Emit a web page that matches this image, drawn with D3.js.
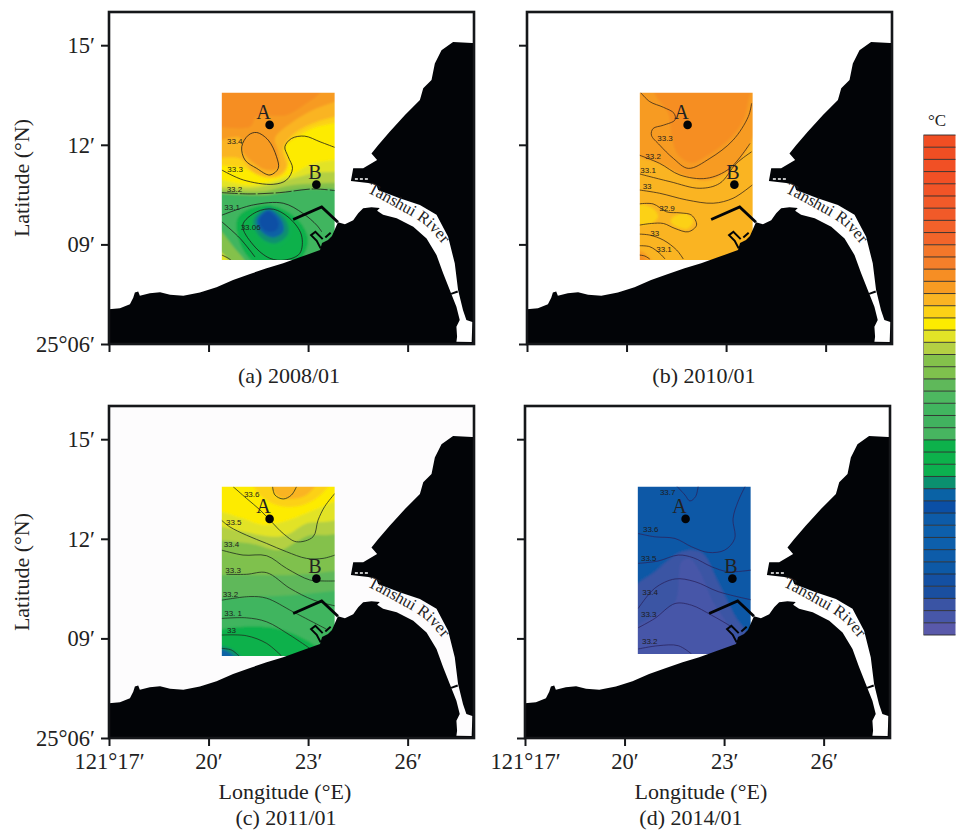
<!DOCTYPE html>
<html>
<head>
<meta charset="utf-8">
<script src="https://d3js.org/d3.v7.min.js"></script>
<style>
  body { margin: 0; background: white; }
  text { font-family: "Liberation Serif", serif; fill: #222; }
  .iso text, text.iso { font-family: "Liberation Sans", sans-serif; font-size: 8px; }
</style>
</head>
<body>
<script>
// all map coordinates are minutes: lon = 121 deg + x', lat = 25 deg + y'
var lonTicks = [17, 20, 23, 26],
    latTicks = [6, 9, 12, 15],
    lonTickLabels = ["121°17′", "20′", "23′", "26′"],
    latTickLabels = ["25°06′", "09′", "12′", "15′"];

var coastLine = [[17,6],[17,7.05],[17.33,7.08],[17.63,7.2],[17.73,7.39],[17.78,7.55],[17.88,7.58],[17.93,7.45],[18.23,7.53],[18.54,7.56],[18.84,7.48],[19.24,7.45],[19.74,7.55],[20.24,7.71],[20.74,7.93],[21.25,8.11],[21.75,8.28],[22.25,8.43],[22.75,8.61],[23.36,8.83],[23.42,9.04],[23.6,9.13],[23.72,9.25],[23.9,9.67],[24.11,9.61],[24.36,9.73],[24.51,9.94],[24.66,10.09],[24.91,10.12],[25.16,10.1],[25.08,10.01],[25.26,9.89],[25.67,9.79],[26.17,9.53],[26.57,9.18],[26.87,8.68],[27.07,8.13],[27.27,7.63],[27.35,7.42],[27.47,7.12],[27.57,6.72],[27.47,6.52],[27.49,6.22],[27.47,6.07],[27.93,6.06],[27.95,6.66],[27.77,6.72],[27.67,7.02],[27.52,7.63],[27.42,8.43],[27.22,9.23],[26.87,9.89],[26.37,10.19],[25.76,10.39],[25.11,10.64],[25.06,10.79],[24.81,10.85],[24.29,10.91],[24.36,11.29],[24.66,11.29],[25.08,11.54],[24.91,11.74],[25.11,11.99],[25.46,12.39],[25.92,12.9],[26.37,13.35],[26.47,13.7],[26.72,13.95],[26.82,14.45],[27.02,14.85],[27.37,15.1],[27.94,15.07],[28,15.07],[28,6]];
var breakwater = [[22.55,9.75],[23.41,10.13],[23.9,9.67]];
var jettyWest = [[23.38,8.88],[23.26,9.11],[23.09,9.28],[23.22,9.38],[23.44,9.16]];
var jettyEast = [[23.52,9.21],[23.68,9.35]];
var riverBar = [[27.31,7.51],[27.51,7.58]];
var capeSand = [[24.41,10.97],[24.81,10.97]];
var riverLabelPath = [[24.77,10.58],[25.61,10.13],[26.52,9.58],[27.12,8.92]];
var stations = [["A",21.84,12.6],["B",23.25,10.8]];
var surveyLon = [20.4, 23.8], surveyLat = [8.53, 13.57];

// colour bar, top to bottom
var barColors = ["#f04e23","#f04e23","#f15025","#f15025","#f15427","#f15a29","#f15a29","#f2612a","#f2652a","#f3772a","#f47f2a","#f68e24","#f79b22","#fab423","#fcd116","#fdeb00","#e2e327","#b4d043","#84c14b","#7fc14d","#5fb85a","#4db860","#41b55f","#41b25f","#47b560","#0db14b","#0db14b","#0cb04f","#0b906f","#0a62a5","#0b4fa5","#0d5ba8","#0d5fab","#0d5fab","#0d5ca9","#0d59a6","#1450a2","#1a4fa0","#3a54a4","#4757a8","#5959aa"];

// 2008/01 : colour bands
var base2008 = 11;
var below2008 = [
  [12, [[20.24,12.56],[21.25,12.54],[21.45,12.85],[22.35,12.9],[22.95,13.25],[23.36,13.57],[23.46,13.85]]],
  [13, [[20.24,12.09],[20.95,12.22],[21.03,11.79],[21.45,11.39],[21.75,11.24],[22.1,11.29],[22.1,11.79],[22,12.19],[22.55,12.7],[23.26,13.1],[23.81,13.3],[24.06,13.4]]],
  [14, [[20.24,11.59],[20.95,11.59],[21.4,11.14],[22.05,11.06],[22.35,11.34],[22.25,11.89],[22.65,12.39],[23.26,12.69],[24.06,12.9]]],
  [15, [[20.24,11.39],[21.05,11.29],[21.75,10.99],[22.25,11.09],[22.43,11.54],[22.31,11.94],[22.75,12.29],[23.26,12.54],[24.06,12.69]]],
  [16, [[20.24,11],[21.25,10.79],[22.45,11.09],[23.16,11.44],[24.06,11.56]]],
  [17, [[20.24,10.74],[21.45,10.72],[22.55,10.99],[23.26,11.16],[24.06,11.19]]],
  [18, [[20.24,10.64],[21.55,10.59],[22.55,10.79],[24.06,10.86]]],
  [22, [[20.24,10.54],[21.75,10.49],[22.75,10.66],[24.06,10.66]]]
];
var blobs2008 = [
  [18, [[20.19,9.53],[20.75,8.93],[21.15,8.33],[20.19,8.23]]],
  [16, [[20.19,8.88],[20.6,8.53],[20.75,8.33],[20.19,8.23]]],
  [25, [[20.9,9.83],[21.75,10.18],[22.6,9.83],[23,9.13],[22.65,8.43],[21.55,8.33],[20.95,9.03]]],
  [27, [[21.2,9.73],[21.8,10.19],[22.4,9.78],[22.55,9.33],[22.1,8.88],[21.55,9.08]]],
  [28, [[21.35,9.73],[21.8,10.11],[22.3,9.78],[22.4,9.33],[22,9.03],[21.55,9.23]]],
  [29, [[21.45,9.73],[21.8,10.05],[22.2,9.73],[22.25,9.38],[21.95,9.21],[21.6,9.38]]],
  [30, [[21.53,9.73],[21.8,10],[22.1,9.68],[22.05,9.43],[21.8,9.38],[21.63,9.48]]]
];
var contours2008 = [
  [[20.4,11.24],[21.05,10.94],[21.95,10.81],[22.35,10.94],[22.53,11.29],[22.4,11.64],[22.3,11.94],[22.5,12.19],[22.9,12.26],[23.36,12.09],[23.81,11.92]],
  [[20.4,9.88],[21.35,10.19],[22.25,10.24],[22.85,9.93],[23.26,9.58],[23.41,9.38]],
  [[20.4,9.68],[20.95,9.18],[21.4,8.62]],
  [[20.4,8.68],[20.6,8.58],[20.7,8.5]]
];
var dashed2008 = [[[20.4,10.56],[21.25,10.52],[22.15,10.56],[23.16,10.67],[23.81,10.62]]];
var loops2008 = [
  [[21.2,12.29],[21.45,12.37],[21.8,12.14],[22.05,11.64],[22.1,11.29],[21.85,11.09],[21.45,11.29],[21.1,11.54],[21,11.94]],
  [[21.03,9.58],[21.45,9.98],[21.95,10.06],[22.45,9.78],[22.8,9.28],[22.75,8.73],[22.3,8.53],[21.85,8.58],[21.35,8.98]]
];
var labels2008 = [["33.4",20.79,12.11],["33.3",20.8,11.28],["33.2",20.78,10.65],["33.1",20.71,10.12],["33.06",21.27,9.53]];

// 2010/01
var base2010 = 13;
var below2010 = [];
var blobs2010 = [
  [12, [[20.2,13.75],[20.2,11.79],[21,11.44],[21.81,11.04],[22.51,10.94],[23.21,11.34],[23.82,12.24],[24.02,13.75]]],
  [11, [[20.8,13.75],[20.9,13.45],[21.26,12.95],[21.36,12.24],[21.56,11.69],[21.96,11.46],[22.46,11.69],[23.11,12.19],[23.52,12.75],[23.67,13.35],[23.72,13.75]]],
  [14, [[20.35,10.18],[20.8,10.08],[20.95,9.83],[20.75,9.63],[20.35,9.63]]],
  [14, [[21.41,9.83],[21.76,9.93],[22.01,9.73],[21.86,9.48],[21.51,9.53],[21.33,9.68]]],
  [12, [[20.3,8.83],[20.55,8.73],[20.75,8.48],[20.3,8.43]]],
  [11, [[20.3,8.68],[20.5,8.63],[20.58,8.48],[20.3,8.45]]]
];
var contours2010 = [
  [[20.42,13.58],[20.7,13.3],[21.11,13.13],[21.43,12.95],[21.46,12.75],[21.11,12.59],[20.8,12.49],[20.75,12.29],[21,11.99],[21.41,11.59],[21.86,11.29],[22.51,11.59],[23.21,12.14],[23.67,12.85],[23.77,13.25]],
  [[20.38,11.69],[21,11.44],[21.61,11.09],[22.41,10.99],[23.11,11.29],[23.72,12.04]],
  [[20.4,11.12],[21.31,10.89],[22.21,10.69],[22.81,10.84],[23.31,11.44],[23.77,11.79]],
  [[20.38,10.64],[21,10.54],[21.81,10.34],[22.61,10.24],[23.21,10.39],[23.79,10.79]],
  [[20.38,10.22],[20.8,10.22],[21.21,9.98],[21.61,9.95],[21.96,9.88],[22.11,9.58],[21.86,9.38],[21.46,9.48],[21.11,9.63],[20.75,9.63],[20.38,9.58]],
  [[20.38,9.31],[20.7,9.28],[21.11,9.13],[21.51,8.83],[21.71,8.56]],
  [[20.38,8.96],[20.7,8.93],[21,8.73],[21.16,8.56]],
  [[20.38,8.68],[20.55,8.65],[20.7,8.56]]
];
var labels2010 = [["33.3",21.16,12.21],["33.2",20.8,11.67],["33.1",20.65,11.22],["33",20.62,10.76],["32.9",21.22,10.08],["33",20.85,9.35],["33.1",21.13,8.85]];

// 2011/01
var base2011 = 15;
var below2011 = [
  [16, [[20.24,12.87],[21.04,12.61],[21.65,12.41],[22.25,12.51],[22.95,12.77],[23.55,13.02],[24.06,13.22]]],
  [17, [[20.24,12.41],[21.04,12.21],[22.05,12.06],[22.45,12.16],[22.95,12.46],[23.55,12.51],[24.06,12.61]]],
  [18, [[20.24,11.96],[21.25,11.86],[22.15,11.66],[22.65,11.91],[23.05,12.11],[23.55,12.11],[24.06,12.16]]],
  [19, [[20.24,11.51],[21.55,11.41],[22.45,11.46],[23.05,11.46],[24.06,11.51]]],
  [20, [[20.24,10.91],[21.55,10.91],[22.55,10.91],[24.06,11.06]]],
  [22, [[20.24,10.21],[21.55,10.26],[22.55,10.31],[24.06,10.46]]],
  [25, [[20.24,9.25],[21.04,9.35],[22.05,9.3],[22.85,9],[23.35,8.7]]]
];
var blobs2011 = [
  [14, [[21.35,13.72],[21.55,13.32],[22.05,13.02],[22.65,12.97],[23.25,13.22],[23.65,13.72]]],
  [13, [[21.9,13.72],[22.05,13.32],[22.45,13.2],[22.95,13.32],[23.25,13.72]]],
  [28, [[20.24,8.75],[20.64,8.7],[20.99,8.4],[20.24,8.3]]],
  [29, [[20.24,8.65],[20.54,8.62],[20.79,8.4],[20.24,8.3]]]
];
var contours2011 = [
  [[21.93,13.57],[22,13.32],[22.25,13.2],[22.5,13.32],[22.65,13.57]],
  [[20.74,13.57],[21.14,13.22],[21.55,12.87],[21.9,12.51],[22.25,12.16],[22.65,11.91],[23.15,12.06],[23.3,12.56],[23.5,12.97],[23.81,13.37]],
  [[20.39,12.56],[20.64,12.36],[21.14,12.11],[21.75,11.86],[22.35,11.61],[22.95,11.41],[23.45,11.41],[23.81,11.51]],
  [[20.39,11.66],[21.04,11.51],[21.75,11.49],[22.35,11.11],[23.05,10.76],[23.45,10.73],[23.81,10.73]],
  [[20.54,10.93],[21.14,10.93],[21.75,10.98],[22.45,10.51],[23.15,10.16],[23.81,9.98]],
  [[20.39,10.15],[21.25,10.26],[21.75,10.21],[22.55,9.8],[23.55,9.28]],
  [[20.39,9.6],[21.14,9.62],[21.75,9.5],[22.45,9.1],[23.05,8.7]],
  [[20.39,9.1],[21.14,9.08],[21.75,8.85],[22.2,8.47]],
  [[20.39,8.7],[20.69,8.65],[20.92,8.47]]
];
var labels2011 = [["33.6",21.3,13.35],["33.5",20.76,12.51],["33.4",20.69,11.84],["33.3",20.74,11.06],["33.2",20.66,10.33],["33. 1",20.74,9.75],["33",20.69,9.25]];

// 2014/01
var base2014 = 35;
var below2014 = [];
var blobs2014 = [
  [38, [[20.21,10.41],[20.91,11.01],[21.72,11.61],[22.32,11.59],[22.82,10.71],[23.32,9.7],[24.03,8.5],[20.21,8.3]]],
  [39, [[21.52,10.1],[21.72,11.31],[21.97,11.41],[22.27,11.01],[22.67,10.1],[23.12,9.4],[23.47,8.45],[20.21,8.3],[20.21,9.2],[20.91,9.7]]]
];
var contours2014 = [
  [[21.57,13.59],[21.82,13.32],[21.97,13.14],[22.14,13.27],[22.22,13.59]],
  [[20.41,12.16],[20.91,12.06],[21.52,12.01],[22.02,11.76],[22.52,11.59],[23.02,11.66],[23.32,12.01],[23.27,12.61],[23.42,13.12],[23.64,13.59]],
  [[20.41,11.26],[21.01,11.33],[21.62,11.51],[22.07,11.43],[22.62,11.16],[23.12,11.01],[23.83,11.06]],
  [[20.41,9.9],[20.91,10.51],[21.52,10.79],[22.12,10.71],[22.82,10.41],[23.83,10.16]],
  [[20.41,9.32],[20.91,9.6],[21.52,10.05],[22.02,10],[22.62,9.7],[23.22,9.35],[23.42,9.2]],
  [[20.41,8.68],[21.01,8.78],[21.62,8.78],[22.02,8.53]]
];
var labels2014 = [["33.7",21.3,13.39],["33.6",20.79,12.28],["33.5",20.73,11.41],["33.4",20.77,10.38],["33.3",20.73,9.72],["33.2",20.76,8.93]];

var panels = [
  {id: "a", left: 109, top: 12, caption: "(a) 2008/01", capX: 289, capY: 383, base: base2008, below: below2008, blobs: blobs2008, lines: contours2008, dashed: dashed2008, loops: loops2008, labels: labels2008, lineColor: "#1c1c1c"},
  {id: "b", left: 527, top: 12, caption: "(b) 2010/01", capX: 704, capY: 383, base: base2010, below: below2010, blobs: blobs2010, lines: contours2010, dashed: [], loops: [], labels: labels2010, lineColor: "#3a2a1a"},
  {id: "c", left: 109, top: 406, caption: "(c) 2011/01", capX: 286, capY: 825, base: base2011, below: below2011, blobs: blobs2011, lines: contours2011, dashed: [], loops: [], labels: labels2011, lineColor: "#1f2f1f", sea: "#fdfcfd", latLow: 8.47},
  {id: "d", left: 525, top: 406, caption: "(d) 2014/01", capX: 691, capY: 825, base: base2014, below: below2014, blobs: blobs2014, lines: contours2014, dashed: [], loops: [], labels: labels2014, lineColor: "#2b2560"}
];

var svg = d3.select("body").append("svg").attr("width", 956).attr("height", 830);
var defs = svg.append("defs");
defs.append("filter").attr("id", "soft").attr("x", "-5%").attr("y", "-5%").attr("width", "110%").attr("height", "110%")
  .append("feGaussianBlur").attr("stdDeviation", 0.8);

var cellColor = d3.scaleOrdinal().domain(d3.range(barColors.length)).range(barColors);

panels.forEach(function (p) {
  var w = 365, h = 332;
  var x = d3.scaleLinear().domain([17, 28]).range([0, w]);
  var y = d3.scaleLinear().domain([6, 16]).range([h, 0]);
  var g = svg.append("g").attr("transform", "translate(" + p.left + "," + p.top + ")");

  var openLine = d3.line().x(function (d) { return x(d[0]); }).y(function (d) { return y(d[1]); }).curve(d3.curveCatmullRom.alpha(0.5));
  var loopLine = d3.line().x(function (d) { return x(d[0]); }).y(function (d) { return y(d[1]); }).curve(d3.curveCatmullRomClosed.alpha(0.5));
  var straight = d3.line().x(function (d) { return x(d[0]); }).y(function (d) { return y(d[1]); });

  g.append("rect").attr("width", w).attr("height", h).attr("fill", p.sea || "white");

  // survey box
  var latLow = p.latLow || surveyLat[0];
  var box = {x: x(surveyLon[0]), y: y(surveyLat[1]), w: x(surveyLon[1]) - x(surveyLon[0]), h: y(latLow) - y(surveyLat[1])};
  defs.append("clipPath").attr("id", "box" + p.id).append("rect")
    .attr("x", box.x).attr("y", box.y).attr("width", box.w).attr("height", box.h);

  var clip = g.append("g").attr("clip-path", "url(#box" + p.id + ")");
  var field = clip.append("g").attr("filter", "url(#soft)");
  field.append("rect").attr("x", box.x - 5).attr("y", box.y - 5).attr("width", box.w + 10).attr("height", box.h + 10)
    .attr("fill", cellColor(p.base));

  // bands that fill everything under their upper edge
  var rx = x(24.4), lx = x(20), by = y(8);
  p.below.forEach(function (b) {
    var pts = b[1], last = pts[pts.length - 1], first = pts[0];
    field.append("path")
      .attr("d", openLine(pts) + "L" + rx + "," + y(last[1]) + "L" + rx + "," + by + "L" + lx + "," + by + "L" + lx + "," + y(first[1]) + "Z")
      .attr("fill", cellColor(b[0]));
  });
  p.blobs.forEach(function (b) {
    field.append("path").attr("d", loopLine(b[1])).attr("fill", cellColor(b[0]));
  });

  var iso = clip.append("g").attr("class", "iso").attr("fill", "none").attr("stroke", p.lineColor).attr("stroke-width", 0.8);
  p.lines.forEach(function (l) { iso.append("path").attr("d", openLine(l)); });
  p.dashed.forEach(function (l) { iso.append("path").attr("d", openLine(l)).attr("stroke-dasharray", "16 2"); });
  p.loops.forEach(function (l) { iso.append("path").attr("d", loopLine(l)); });

  g.selectAll("text.iso").data(p.labels).enter().append("text").attr("class", "iso")
    .attr("x", function (d) { return x(d[1]); })
    .attr("y", function (d) { return y(d[2]); })
    .attr("dy", "0.35em").attr("text-anchor", "middle").text(function (d) { return d[0]; })
    .style("fill", "#1c1c1c");

  // land
  g.append("path").attr("d", straight(coastLine) + "Z").attr("fill", "#020407");
  g.append("path").attr("d", straight(breakwater)).attr("fill", "none").attr("stroke", "#020407").attr("stroke-width", 2.8);
  g.append("path").attr("d", straight(jettyWest)).attr("fill", "none").attr("stroke", "#020407").attr("stroke-width", 2);
  g.append("path").attr("d", straight(jettyEast)).attr("fill", "none").attr("stroke", "#020407").attr("stroke-width", 2);
  g.append("path").attr("d", straight(riverBar)).attr("fill", "none").attr("stroke", "#020407").attr("stroke-width", 2);
  g.append("path").attr("d", straight(capeSand)).attr("fill", "none").attr("stroke", "white").attr("stroke-width", 1.6).attr("stroke-dasharray", "3 2");

  // river name follows the channel
  defs.append("path").attr("id", "river" + p.id).attr("d", openLine(riverLabelPath));
  g.append("text").style("font-size", "16.5px")
    .append("textPath").attr("href", "#river" + p.id).text("Tanshui River");

  // stations
  stations.forEach(function (s, i) {
    g.append("circle").attr("cx", x(s[1])).attr("cy", y(s[2])).attr("r", 4.3).attr("fill", "#020407");
    g.append("text").attr("x", x(s[1]) - (i ? 1.5 : 6)).attr("y", y(s[2]) - 5.6).attr("text-anchor", "middle")
      .style("font-size", "20px").text(s[0]);
  });

  // frame and axes
  g.append("rect").attr("width", w).attr("height", h).attr("fill", "none").attr("stroke", "#15171a").attr("stroke-width", 2.6);

  var hasLonLabels = p.id == "c" || p.id == "d",
      hasLatLabels = p.id == "a" || p.id == "c";

  var axX = d3.axisBottom(x).tickValues(lonTicks).tickSize(8).tickSizeOuter(0)
    .tickFormat(function (d, i) { return hasLonLabels ? lonTickLabels[i] : ""; });
  var gx = g.append("g").attr("transform", "translate(0," + h + ")").call(axX);
  var axY = d3.axisLeft(y).tickValues(latTicks).tickSize(8).tickSizeOuter(0)
    .tickFormat(function (d, i) { return hasLatLabels ? latTickLabels[i] : ""; });
  var gy = g.append("g").call(axY);
  [gx, gy].forEach(function (a) {
    a.select(".domain").remove();
    a.selectAll(".tick line").attr("stroke", "#15171a").attr("stroke-width", 2);
    a.selectAll(".tick text").style("font-family", "Liberation Serif").style("font-size", "22.5px").attr("fill", "#222");
  });
  gx.selectAll(".tick text").attr("y", 15);
  gy.selectAll(".tick text").attr("x", -14);

  if (hasLonLabels) {
    g.append("text").attr("x", x(22.3)).attr("y", h + 61).attr("text-anchor", "middle").style("font-size", "22px").text("Longitude (°E)");
  }
  if (hasLatLabels) {
    g.append("text").attr("transform", "translate(-80," + (h / 2) + ") rotate(-90)").attr("text-anchor", "middle").style("font-size", "22px").text("Latitude (°N)");
  }
  svg.append("text").attr("x", p.capX).attr("y", p.capY).attr("text-anchor", "middle").style("font-size", "22px").text(p.caption);
});

// colour bar
var barY = d3.scaleBand().domain(d3.range(barColors.length)).range([135, 635]);
var bar = svg.append("g");
bar.selectAll("rect").data(barColors).enter().append("rect")
  .attr("x", 923.5).attr("width", 32)
  .attr("y", function (d, i) { return barY(i); })
  .attr("height", barY.bandwidth())
  .attr("fill", function (d) { return d; });
bar.selectAll("line").data(d3.range(barColors.length + 1)).enter().append("line")
  .attr("x1", 923.5).attr("x2", 955.5)
  .attr("y1", function (d) { return 135 + d * barY.bandwidth(); })
  .attr("y2", function (d) { return 135 + d * barY.bandwidth(); })
  .attr("stroke", "#2a2a2a").attr("stroke-width", 0.9);
bar.append("line").attr("x1", 923.5).attr("x2", 923.5).attr("y1", 135).attr("y2", 635).attr("stroke", "#777").attr("stroke-width", 0.8);
svg.append("text").attr("x", 937).attr("y", 126).attr("text-anchor", "middle").style("font-size", "17px").text("°C");
</script>
</body>
</html>
